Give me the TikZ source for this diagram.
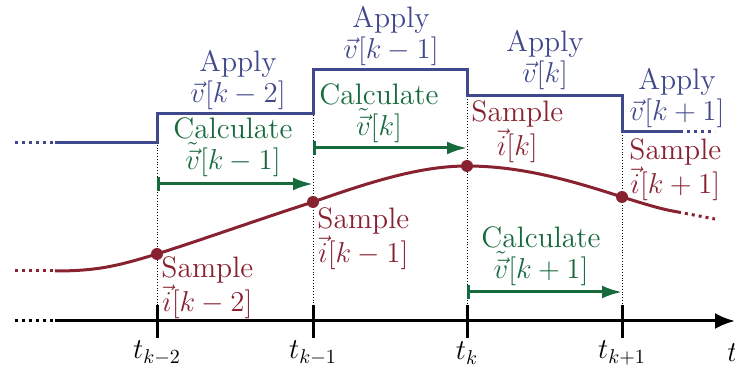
\documentclass[tikz,border=0pt]{standalone}
\usetikzlibrary{arrows.meta}
\definecolor{vblue}{RGB}{64,72,140}
\definecolor{cgreen}{RGB}{22,106,60}
\definecolor{sred}{RGB}{136,34,48}
\begin{document}
\begin{tikzpicture}[x=0.5pt,y=-0.5pt,
  lbl/.style={font=\fontsize{14.8}{15.8}\selectfont, align=center, inner sep=0pt},
  vline/.style={vblue, line width=1.5pt},
  cline/.style={cgreen, line width=1.5pt, {Bar[width=7pt]}-{Latex[length=10pt,width=6.5pt]}},
  sline/.style={sred, line width=1.5pt},
  sdot/.style={circle, fill=sred, inner sep=0pt, minimum size=6pt},
  guide/.style={densely dotted, line width=0.4pt},
  tickmark/.style={line width=1.5pt}]
\useasboundingbox (0,0) rectangle (735,369);
% time axis
\coordinate (ax0) at (15,321);
\coordinate (ax1) at (55,321);
\coordinate (ax2) at (735,321);
\draw[line width=1.5pt, dotted] (ax0) -- (ax1);
\draw[line width=1.5pt, -{Latex[length=10pt,width=8pt]}] (ax1) -- (ax2);
\foreach \x/\n/\lab in {157/a/{k-2},313/b/{k-1},467/c/{k},622/d/{k+1}}{
  \coordinate (tt\n) at (\x,305);
  \coordinate (tb\n) at (\x,338);
  \draw[tickmark] (tt\n) -- (tb\n);
  \node[lbl, anchor=center] (tl\n) at (\x,353) {$t_{\lab}$};
}
\node[lbl, anchor=west] (tend) at (727,353) {$t$};
% guides
\coordinate (ga) at (157,114); \coordinate (gb) at (313,70);
\coordinate (gc) at (467,96);  \coordinate (gd) at (622,132);
\draw[guide] (ga) -- (tta);
\draw[guide] (gb) -- (ttb);
\draw[guide] (gc) -- (ttc);
\draw[guide] (gd) -- (ttd);
% voltage
\coordinate (v0) at (15,143);
\coordinate (v1) at (55,143);
\coordinate (v2) at (680,132);
\coordinate (v3) at (715,132);
\draw[vline, dotted] (v0) -- (v1);
\draw[vline] (v1) -- (157,143) -- (ga) -- (313,114) -- (gb) -- (467,70) -- (gc) -- (622,96) -- (gd) -- (v2);
\draw[vline, dotted] (v2) -- (v3);
% current
\coordinate (c0) at (15,271);
\coordinate (c1) at (55,271);
\node[sdot] (sa) at (157,254) {};
\node[sdot] (sb) at (313,202) {};
\node[sdot] (sc) at (467,166) {};
\node[sdot] (sd) at (622,197) {};
\coordinate (c2) at (678,212);
\coordinate (c3) at (715,219);
\draw[sline, dotted] (c0) -- (c1);
\draw[sline] (c1) .. controls (100,271) and (120,265) .. (sa.center)
  .. controls (210,237) and (260,219) .. (sb.center)
  .. controls (370,182) and (420,166) .. (sc.center)
  .. controls (520,166) and (570,180) .. (sd.center)
  .. controls (645,204) and (660,209) .. (c2);
\draw[sline, dotted] (c2) -- (c3);
% calculate arrows
\coordinate (ca0) at (157,184); \coordinate (ca1) at (313,184);
\coordinate (cb0) at (313,148); \coordinate (cb1) at (467,148);
\coordinate (cc0) at (467,292); \coordinate (cc1) at (622,292);
\draw[cline] (ca0) -- (ca1);
\draw[cline] (cb0) -- (cb1);
\draw[cline] (cc0) -- (cc1);
% labels
\node[lbl, vblue] (apa) at (238,80) {Apply\\$\vec{v}[k-2]$};
\node[lbl, vblue] (apb) at (391,36) {Apply\\$\vec{v}[k-1]$};
\node[lbl, vblue] (apc) at (545,60) {Apply\\$\vec{v}[k]$};
\node[lbl, vblue] (apd) at (677,98) {Apply\\$\vec{v}[k+1]$};
\node[lbl, cgreen] (cla) at (233,147) {Calculate\\$\tilde{\vec{v}}[k-1]$};
\node[lbl, cgreen] (clb) at (379,113) {Calculate\\$\tilde{\vec{v}}[k]$};
\node[lbl, cgreen] (clc) at (541,256) {Calculate\\$\tilde{\vec{v}}[k+1]$};
\node[lbl, sred, anchor=north west] (saa) at (161,256) {Sample\\$\vec{i}[k-2]$};
\node[lbl, sred, anchor=north west] (sab) at (317,207) {Sample\\$\vec{i}[k-1]$};
\node[lbl, sred, anchor=north west] (sac) at (471,100) {Sample\\$\vec{i}[k]$};
\node[lbl, sred, anchor=north west] (sad) at (629,138) {Sample\\$\vec{i}[k+1]$};
\end{tikzpicture}
\end{document}
